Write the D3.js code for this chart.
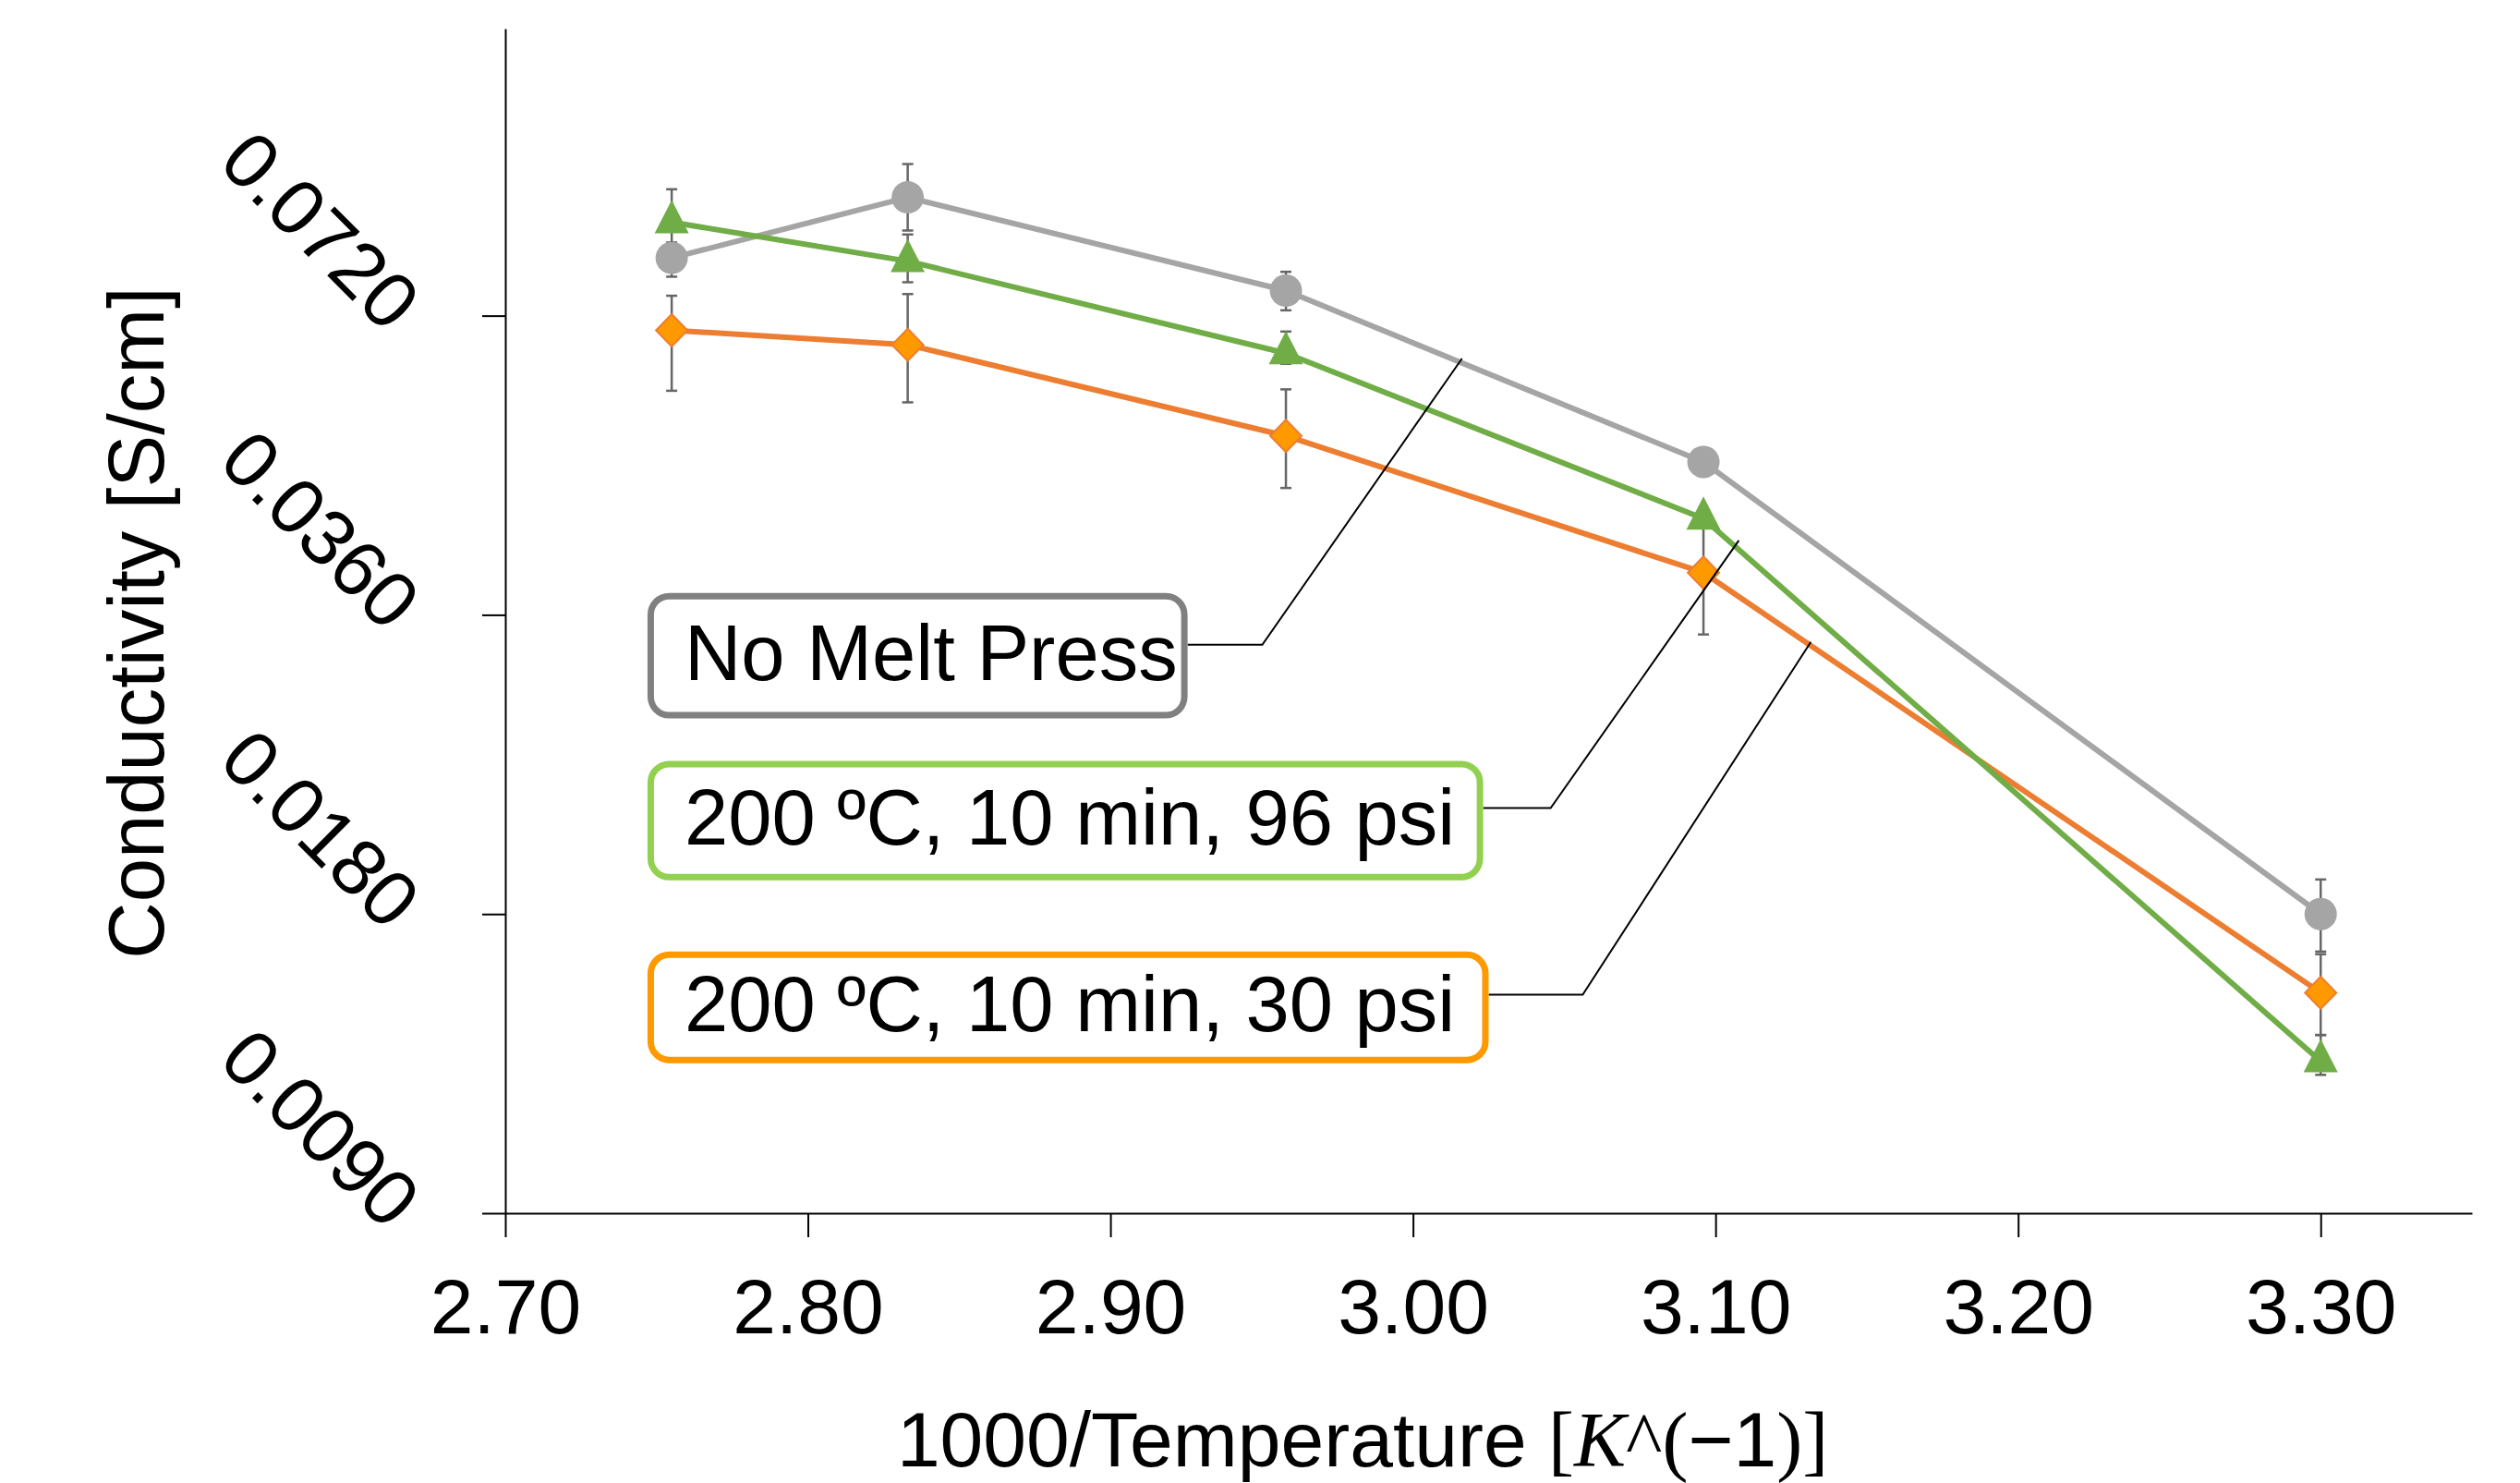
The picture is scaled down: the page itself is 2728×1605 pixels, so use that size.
<!DOCTYPE html>
<meta charset="utf-8">
<style>
  body { margin: 0; background: #fff; }
  text { font-family: "Liberation Sans", Arial, sans-serif; fill: #000; }
  .axis path, .axis line { stroke: #000; stroke-width: 2px; }
  .serif { font-family: "Liberation Serif", "Times New Roman", serif; }
</style>
<body>
<script src="https://cdn.jsdelivr.net/npm/d3@7"></script>
<script>

// data
var temps = [2.755, 2.833, 2.958, 3.096, 3.300];

var noPress    = [0.0823, 0.0947, 0.0763, 0.0513, 0.0180];
var noPressHi  = [0.0030, 0.0076, 0.0034, 0.0015, 0.0015];
var noPressLo  = [0.0035, 0.0070, 0.0034, 0.0015, 0.0015];

var psi96      = [0.0894, 0.0817, 0.0660, 0.0450, 0.0128];
var psi96Hi    = [0.0071, 0.0052, 0.0034, 0.0010, 0.0008];
var psi96Lo    = [0.0071, 0.0039, 0.0016, 0.0010, 0.0004];

var psi30      = [0.0696, 0.0673, 0.0545, 0.0397, 0.0150];
var psi30Hi    = [0.0058, 0.0084, 0.0062, 0.0053, 0.0014];
var psi30Lo    = [0.0091, 0.0084, 0.0062, 0.0053, 0.0014];

var xTicks = [2.70, 2.80, 2.90, 3.00, 3.10, 3.20, 3.30];
var yTicks = [0.0090, 0.0180, 0.0360, 0.0720];

var seriesNames = ["No Melt Press", "200 ºC, 10 min, 96 psi", "200 ºC, 10 min, 30 psi"];

// drawing order: gray, orange, green
var series = [
  {name: seriesNames[0], vals: noPress, hi: noPressHi, lo: noPressLo, line: "#A5A5A5", fill: "#A5A5A5", marker: "circle"},
  {name: seriesNames[2], vals: psi30, hi: psi30Hi, lo: psi30Lo, line: "#ED7D31", fill: "#FF9900", marker: "diamond"},
  {name: seriesNames[1], vals: psi96, hi: psi96Hi, lo: psi96Lo, line: "#70AD47", fill: "#70AD47", marker: "triangle"}
];

// callout boxes, placed in data units
var callouts = [
  {text: seriesNames[0], color: "#808080", x0: 2.747, x1: 2.9255, top: 0.03788, bottom: 0.02832, elbowX: 2.9502, elbowY: 0.03359, tx: 3.0162, ty: 0.0652},
  {text: seriesNames[1], color: "#92D050", x0: 2.747, x1: 3.0232, top: 0.02567, bottom: 0.01946, elbowX: 3.0455, elbowY: 0.02301, tx: 3.1077, ty: 0.04278},
  {text: seriesNames[2], color: "#FF9900", x0: 2.747, x1: 3.0250, top: 0.01650, bottom: 0.01274, elbowX: 3.0561, elbowY: 0.01493, tx: 3.1315, ty: 0.03381}
];

var W = 2728, H = 1605;
var margin = {top: 31, right: 52, bottom: 292, left: 547};
var width = W - margin.left - margin.right,
    height = H - margin.top - margin.bottom;

var svg = d3.select("body").append("svg")
  .attr("width", W)
  .attr("height", H);

var g = svg.append("g")
  .attr("transform", "translate(" + margin.left + "," + margin.top + ")");

var x = d3.scaleLinear().domain([2.70, 3.35]).range([0, width]);
var y = d3.scaleLog().base(2).domain([0.009, 0.14]).range([height, 0]);

// axes
var xAxis = g.append("g")
  .attr("class", "axis")
  .attr("transform", "translate(0," + height + ")")
  .call(d3.axisBottom(x).tickValues(xTicks).tickFormat(d3.format(".2f")).tickSize(26).tickSizeOuter(0));
xAxis.selectAll("text")
  .attr("y", 130).attr("dy", null)
  .style("font-size", "84px");

var yAxis = g.append("g")
  .attr("class", "axis")
  .call(d3.axisLeft(y).tickValues(yTicks).tickFormat(d3.format(".4f")).tickSize(25).tickSizeOuter(0));
yAxis.selectAll("text")
  .attr("x", 0).attr("dy", null)
  .attr("text-anchor", "end")
  .attr("transform", "translate(-129,20) rotate(45)")
  .style("font-size", "85px");
svg.selectAll(".axis .domain").attr("stroke", "#000").attr("stroke-width", 2);

// axis titles
var xt = svg.append("text")
  .attr("x", 1475).attr("y", 1587)
  .attr("text-anchor", "middle")
  .style("font-size", "84px");
xt.append("tspan").text("1000/Temperature ");
xt.append("tspan").attr("class", "serif").text("[");
xt.append("tspan").attr("class", "serif").style("font-style", "italic").text("K");
xt.append("tspan").attr("class", "serif").text("^(");
xt.append("tspan").text("−1");
xt.append("tspan").attr("class", "serif").text(")]");

svg.append("text")
  .attr("transform", "translate(177,674) rotate(-90)")
  .attr("text-anchor", "middle")
  .style("font-size", "85px")
  .text("Conductivity [S/cm]");

// lines
var line = d3.line()
  .x(function(d, i) { return x(temps[i]); })
  .y(function(d) { return y(d); });

series.forEach(function(s) {
  g.append("path")
    .datum(s.vals)
    .attr("fill", "none")
    .attr("stroke", s.line)
    .attr("stroke-width", 6)
    .attr("stroke-linejoin", "round")
    .attr("d", line);
});

// error bars
series.forEach(function(s) {
  var eb = g.append("g").selectAll("g")
    .data(s.vals)
    .enter().append("g")
    .attr("stroke", "#666")
    .attr("stroke-width", 2.5);
  eb.append("line")
    .attr("x1", function(d, i) { return x(temps[i]); })
    .attr("x2", function(d, i) { return x(temps[i]); })
    .attr("y1", function(d, i) { return y(d + s.hi[i]); })
    .attr("y2", function(d, i) { return y(d - s.lo[i]); });
  eb.append("line")
    .attr("x1", function(d, i) { return x(temps[i]) - 6; })
    .attr("x2", function(d, i) { return x(temps[i]) + 6; })
    .attr("y1", function(d, i) { return y(d + s.hi[i]); })
    .attr("y2", function(d, i) { return y(d + s.hi[i]); });
  eb.append("line")
    .attr("x1", function(d, i) { return x(temps[i]) - 6; })
    .attr("x2", function(d, i) { return x(temps[i]) + 6; })
    .attr("y1", function(d, i) { return y(d - s.lo[i]); })
    .attr("y2", function(d, i) { return y(d - s.lo[i]); });
});

// markers
var shapes = {
  circle: "M17.5,0A17.5,17.5 0 1,1 -17.5,0A17.5,17.5 0 1,1 17.5,0Z",
  diamond: "M0,-17.5L17,0L0,17.5L-17,0Z",
  triangle: "M0,-24L18.5,12L-18.5,12Z"
};
series.forEach(function(s) {
  g.append("g").selectAll("path")
    .data(s.vals)
    .enter().append("path")
    .attr("transform", function(d, i) { return "translate(" + x(temps[i]) + "," + y(d) + ")"; })
    .attr("d", shapes[s.marker])
    .attr("fill", s.fill)
    .attr("stroke", s.marker == "diamond" ? s.line : "none")
    .attr("stroke-width", 2);
});

// callouts
callouts.forEach(function(c) {
  var bx = x(c.x0), by = y(c.top), bw = x(c.x1) - x(c.x0), bh = y(c.bottom) - y(c.top);
  g.append("polyline")
    .attr("points", [[bx + bw, y(c.elbowY)], [x(c.elbowX), y(c.elbowY)], [x(c.tx), y(c.ty)]].join(" "))
    .attr("fill", "none")
    .attr("stroke", "#000")
    .attr("stroke-width", 2);
  g.append("rect")
    .attr("x", bx + 3.5).attr("y", by + 3.5)
    .attr("width", bw - 7).attr("height", bh - 7)
    .attr("rx", 20).attr("ry", 20)
    .attr("fill", "#fff")
    .attr("stroke", c.color)
    .attr("stroke-width", 7);
  g.append("text")
    .attr("x", bx + 40)
    .attr("y", by + bh / 2 + 26)
    .style("font-size", "85px")
    .text(c.text);
});

</script>
</body>
